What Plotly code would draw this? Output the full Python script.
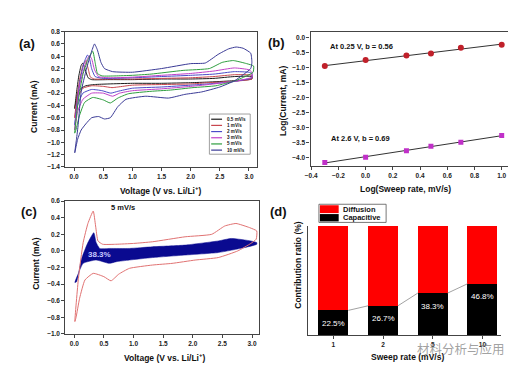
import numpy as np
import plotly.graph_objects as go

W, H = 516, 367
def fx(p): return p / W
def fy(p): return 1 - p / H

# ---------------- data ----------------
scan_labels = ["0.5 mV/s", "1 mV/s", "2 mV/s", "3 mV/s", "5 mV/s", "10 mV/s"]
scan_colors = ["#1a1a1a", "#c8464e", "#4b4bc8", "#c040c8", "#2e9e3e", "#3a3a96"]

cv05_v = [0.01,0.04,0.08,0.12,0.15,0.19,0.24,0.3,0.6,1.0,1.5,2.0,2.4,2.75,3.05, 3.05,2.7,2.3,2.0,1.5,1.0,0.6,0.35,0.2,0.12,0.06,0.01]
cv05_i = [-0.45,-0.2,0.08,0.25,0.29,0.18,0.05,0.02,0.02,0.02,0.03,0.03,0.04,0.07,0.07, 0.03,0.0,-0.02,-0.03,-0.04,-0.04,-0.05,-0.06,-0.08,-0.12,-0.2,-0.45]

cv1_v = [0.01,0.05,0.1,0.15,0.2,0.24,0.28,0.35,0.6,1.0,1.5,2.0,2.4,2.75,3.05, 3.05,2.7,2.3,2.0,1.5,1.0,0.75,0.65,0.5,0.3,0.15,0.07,0.01]
cv1_i = [-0.6,-0.25,0.05,0.25,0.33,0.2,0.06,0.03,0.03,0.03,0.04,0.05,0.07,0.1,0.09, 0.03,-0.01,-0.03,-0.05,-0.06,-0.07,-0.1,-0.11,-0.09,-0.08,-0.12,-0.25,-0.6]

cv2_v = [0.01,0.05,0.1,0.17,0.23,0.26,0.3,0.36,0.5,1.0,1.5,2.0,2.4,2.75,3.0,3.05, 3.05,2.75,2.3,2.0,1.5,1.0,0.75,0.63,0.48,0.3,0.15,0.06,0.01]
cv2_i = [-0.72,-0.35,0.0,0.3,0.42,0.38,0.2,0.07,0.04,0.05,0.07,0.09,0.11,0.15,0.14,0.12, 0.05,-0.01,-0.05,-0.07,-0.1,-0.12,-0.17,-0.2,-0.16,-0.14,-0.2,-0.4,-0.72]

cv3_v = [0.01,0.05,0.1,0.2,0.26,0.3,0.35,0.42,0.6,1.0,1.5,2.0,2.4,2.75,3.0,3.05, 3.05,2.8,2.4,2.0,1.5,1.0,0.78,0.66,0.5,0.3,0.15,0.06,0.01]
cv3_i = [-0.8,-0.42,-0.05,0.3,0.41,0.36,0.18,0.07,0.05,0.06,0.09,0.12,0.16,0.21,0.18,0.14, 0.06,0.0,-0.05,-0.09,-0.13,-0.16,-0.2,-0.25,-0.2,-0.2,-0.3,-0.5,-0.8]

cv5_v = [0.01,0.07,0.15,0.23,0.32,0.36,0.4,0.48,0.7,1.0,1.32,1.87,2.32,2.54,2.73,2.96,3.08, 3.07,2.98,2.76,2.43,2.04,1.65,1.32,0.93,0.75,0.62,0.5,0.32,0.18,0.09,0.03,0.01]
cv5_i = [-0.85,-0.33,0.10,0.33,0.48,0.30,0.12,0.08,0.08,0.09,0.11,0.17,0.20,0.30,0.33,0.28,0.24, 0.14,0.09,0.0,-0.08,-0.11,-0.15,-0.17,-0.21,-0.28,-0.36,-0.31,-0.27,-0.35,-0.57,-0.8,-0.85]

cv10_v = [0.01,0.04,0.07,0.12,0.21,0.29,0.35,0.4,0.46,0.52,0.66,1.0,1.5,2.0,2.25,2.47,2.65,2.78,2.9,3.03,3.05, 3.03,2.9,2.75,2.5,2.19,1.9,1.62,1.23,0.89,0.75,0.62,0.52,0.42,0.3,0.2,0.12,0.06,0.01]
cv10_i = [-1.17,-0.95,-0.71,-0.18,0.19,0.45,0.6,0.5,0.3,0.2,0.15,0.14,0.2,0.28,0.29,0.43,0.52,0.55,0.53,0.45,0.3, 0.2,0.1,0.0,-0.1,-0.18,-0.22,-0.28,-0.25,-0.3,-0.42,-0.6,-0.62,-0.58,-0.6,-0.7,-0.8,-0.95,-1.17]

cv_v = [cv05_v, cv1_v, cv2_v, cv3_v, cv5_v, cv10_v]
cv_i = [cv05_i, cv1_i, cv2_i, cv3_i, cv5_i, cv10_i]

# panel b
log_rate = [-0.3, 0.0, 0.3, 0.48, 0.7, 1.0]
log_i_025 = [-0.95, -0.75, -0.6, -0.53, -0.34, -0.24]
log_i_26 = [-4.16, -3.99, -3.77, -3.62, -3.49, -3.26]

# panel c capacitive region
cap_up_v = [0.01,0.04,0.12,0.23,0.33,0.37,0.43,0.6,0.93,1.32,1.87,2.43,2.65,2.98,3.08]
cap_up_i = [-0.38,-0.37,-0.1,0.10,0.22,0.10,0.03,0.03,0.03,0.05,0.07,0.12,0.15,0.12,0.10]
cap_lo_v = [3.08,2.87,2.43,1.87,1.32,0.93,0.71,0.59,0.37,0.15,0.07,0.01]
cap_lo_i = [0.08,0.04,-0.02,-0.05,-0.08,-0.11,-0.13,-0.15,-0.11,-0.15,-0.27,-0.38]

# panel d
rates = ["1", "2", "5", "10"]
capacitive = [22.5, 26.7, 38.3, 46.8]
diffusion = [100 - c for c in capacitive]

# ---------------- figure ----------------
FONT = "Liberation Sans"
fig = go.Figure()

for k in range(6):
    fig.add_trace(go.Scatter(x=cv_v[k], y=cv_i[k], mode="lines",
                             line=dict(color=scan_colors[k], width=1, shape="spline", smoothing=0.45),
                             xaxis="x", yaxis="y", showlegend=False))

# b
for ys, col, sym, sz in [(log_i_025, "#c0202a", "circle", 6), (log_i_26, "#c030c8", "square", 5)]:
    slope, icpt = np.polyfit(log_rate, ys, 1)
    fx_line = [log_rate[0], log_rate[-1]]
    fig.add_trace(go.Scatter(x=fx_line, y=[slope * v + icpt for v in fx_line], mode="lines",
                             line=dict(color="#333", width=1), xaxis="x2", yaxis="y2", showlegend=False))
    fig.add_trace(go.Scatter(x=log_rate, y=ys, mode="markers",
                             marker=dict(color=col, symbol=sym, size=sz), xaxis="x2", yaxis="y2", showlegend=False))

# c
fig.add_trace(go.Scatter(x=cap_up_v + cap_lo_v, y=cap_up_i + cap_lo_i, mode="lines", fill="toself",
                         fillcolor="#0a0a90", line=dict(color="#0a0a90", width=0.5, shape="spline", smoothing=0.5),
                         xaxis="x3", yaxis="y3", showlegend=False))
fig.add_trace(go.Scatter(x=cv5_v, y=cv5_i, mode="lines",
                         line=dict(color="#e07272", width=1, shape="spline", smoothing=0.45),
                         xaxis="x3", yaxis="y3", showlegend=False))

# d
xpos = list(range(len(rates)))
fig.add_trace(go.Bar(x=xpos, y=capacitive, marker=dict(color="black", line=dict(width=0)), width=0.6,
                     xaxis="x4", yaxis="y4", showlegend=False))
fig.add_trace(go.Bar(x=xpos, y=diffusion, marker=dict(color="#ff0000", line=dict(width=0)), width=0.6,
                     xaxis="x4", yaxis="y4", showlegend=False))
lx, ly = [], []
for i in range(len(rates) - 1):
    lx += [i + 0.3, i + 0.7, None]
    ly += [capacitive[i], capacitive[i + 1], None]
fig.add_trace(go.Scatter(x=lx, y=ly, mode="lines", line=dict(color="#8a8a8a", width=0.8),
                         xaxis="x4", yaxis="y4", showlegend=False))

tickfont = dict(family=FONT, size=6.5, color="#222", weight="bold")
ax_common = dict(showgrid=False, zeroline=False, showline=True, linecolor="#444", linewidth=1.2,
                 ticks="outside", ticklen=3, tickwidth=1, tickcolor="#444", tickfont=tickfont)

fig.update_layout(
    width=W, height=H, margin=dict(l=0, r=0, t=0, b=0),
    paper_bgcolor="white", plot_bgcolor="white", barmode="stack", showlegend=False,
    xaxis=dict(domain=[fx(52), fx(246)], range=[-0.15, 3.14], tickvals=[0, 0.5, 1, 1.5, 2, 2.5, 3],
               tickformat=".1f", anchor="y", mirror=True, **ax_common),
    yaxis=dict(domain=[fy(158), fy(20)], range=[-1.4005, 0.8005], dtick=0.2, tick0=0,
               tickformat=".1f", anchor="x", mirror=True, **ax_common),
    xaxis2=dict(domain=[fx(300), fx(501)], range=[-0.405, 1.055],
                tickvals=[-0.4, -0.2, 0, 0.2, 0.4, 0.6, 0.8, 1.0], tickformat=".1f", anchor="y2", mirror=True, **ax_common),
    yaxis2=dict(domain=[fy(157), fy(20)], range=[-4.28, 0.2], dtick=0.5, tick0=0,
                tickformat=".1f", anchor="x2", mirror=True, **ax_common),
    xaxis3=dict(domain=[fx(52), fx(248)], range=[-0.15, 3.12], tickvals=[0, 0.5, 1, 1.5, 2, 2.5, 3],
                tickformat=".1f", anchor="y3", mirror=True, **ax_common),
    yaxis3=dict(domain=[fy(328.3), fy(192.7)], range=[-1.0005, 0.6005], dtick=0.2, tick0=0,
                tickformat=".1f", anchor="x3", mirror=True, **ax_common),
    xaxis4=dict(domain=[fx(297), fx(493)], range=[-0.52, 3.38], tickvals=xpos, ticktext=rates,
                anchor="y4", **ax_common),
    yaxis4=dict(domain=[fy(329.3), fy(217.7)], range=[0, 100], showgrid=False, zeroline=False,
                showline=True, linecolor="#444", linewidth=1.2, ticks="", showticklabels=False, anchor="x4"),
)

ann = []
shapes = []
def text(x, y, s, size=8.5, angle=0, color="#111", weight="bold", xanchor="center", family=FONT):
    ann.append(dict(x=fx(x), y=fy(y), xref="paper", yref="paper", text=s, showarrow=False,
                    textangle=angle, xanchor=xanchor, yanchor="middle",
                    font=dict(family=family, size=size, color=color, weight=weight)))

# panel labels
text(13, 32, "(a)", size=13)
text(266, 31, "(b)", size=13)
text(15, 203, "(c)", size=13)
text(268, 203, "(d)", size=13)

# axis titles
text(148, 182, "Voltage (V vs. Li/Li<sup>+</sup>)", size=8.5)
text(20, 96, "Current (mA)", size=8.5, angle=-90)
text(396, 180, "Log(Sweep rate, mV/s)", size=8.5)
text(272, 90, "Log(Current, mA)", size=8.5, angle=-90)
text(152, 352, "Voltage (V vs. Li/Li<sup>+</sup>)", size=8.5)
text(22, 256, "Current (mA)", size=8.5, angle=-90)
text(398, 352, "Sweep rate (mV/s)", size=8.5)
text(287, 258, "Contribution ratio (%)", size=8.5, angle=-90)

# b labels
text(318, 35, "At 0.25 V, b = 0.56", size=7.5, xanchor="left")
text(319, 129, "At 2.6 V, b = 0.69", size=7.5, xanchor="left")

# c labels
ann.append(dict(x=0.82, y=0.52, xref="x3", yref="y3", text="5 mV/s", showarrow=False,
                font=dict(family=FONT, size=7.5, color="#111", weight="bold")))
ann.append(dict(x=0.43, y=-0.04, xref="x3", yref="y3", text="38.3%", showarrow=False,
                font=dict(family=FONT, size=8, color="#c8c8ff", weight="bold")))

# d percent labels
for i, c in enumerate(capacitive):
    ann.append(dict(x=i, y=c - 12, xref="x4", yref="y4", text=f"{c}%", showarrow=False,
                    font=dict(family=FONT, size=8, color="white")))

# legend (a)
shapes.append(dict(type="rect", xref="paper", yref="paper", x0=fx(197.7), x1=fx(239), y0=fy(145), y1=fy(104),
                   line=dict(color="#888", width=0.8), fillcolor="white"))
for k, lab in enumerate(scan_labels):
    yy = 109.3 + k * 6.3
    shapes.append(dict(type="line", xref="paper", yref="paper", x0=fx(199.5), x1=fx(210.5), y0=fy(yy), y1=fy(yy),
                       line=dict(color=scan_colors[k], width=1.2)))
    text(213, yy, lab, size=4.6, xanchor="left")

# legend (d)
shapes.append(dict(type="rect", xref="paper", yref="paper", x0=fx(308.5), x1=fx(376.5), y0=fy(214.5), y1=fy(196),
                   line=dict(color="#555", width=0.8), fillcolor="white"))
shapes.append(dict(type="rect", xref="paper", yref="paper", x0=fx(309.5), x1=fx(328.5), y0=fy(205), y1=fy(197),
                   line=dict(width=0), fillcolor="#ff0000"))
shapes.append(dict(type="rect", xref="paper", yref="paper", x0=fx(309.5), x1=fx(328.5), y0=fy(213.5), y1=fy(206),
                   line=dict(width=0), fillcolor="black"))
text(331, 201, "Diffusion", size=7.5, xanchor="left")
text(331, 209.5, "Capacitive", size=7.5, xanchor="left")

# watermark
text(499, 343, "材料分析与应用", size=12.5, color="rgba(120,120,120,0.7)", weight="normal",
     xanchor="right", family="Noto Sans CJK SC")

fig.update_layout(annotations=ann, shapes=shapes)
fig.write_html("out.html")
